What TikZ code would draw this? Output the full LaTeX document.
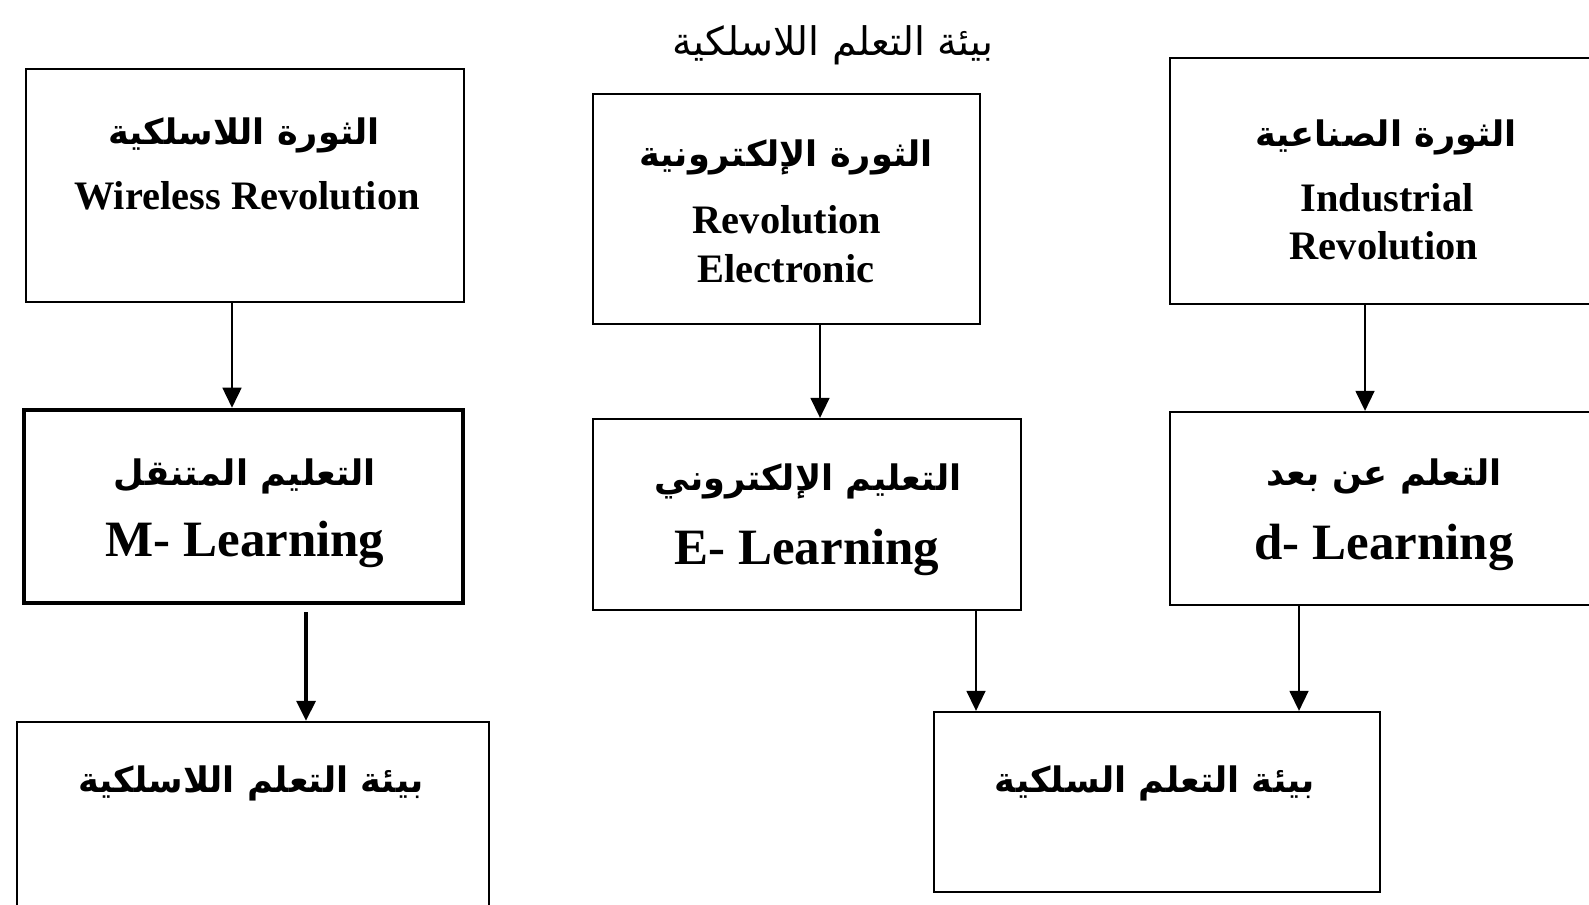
\documentclass[tikz,border=0pt]{standalone}
\usepackage{fontspec}
\setmainfont{Liberation Serif}
\newfontfamily\arabicfont[Script=Arabic]{DejaVu Sans}
\TeXXeTstate=1
\usetikzlibrary{arrows.meta}
\newcommand{\arabtxt}[1]{{\arabicfont\beginR #1\endR}}
\begin{document}
\begin{tikzpicture}
    \tikzset{box/.style={draw=black, line width=0.65pt, rectangle, inner sep=0pt},
        entop/.style={font=\bfseries\fontsize{11.5}{12}\selectfont, inner sep=0pt},
        enbig/.style={font=\bfseries\fontsize{14.5}{15}\selectfont, inner sep=0pt},
        artxt/.style={font=\bfseries\fontsize{10}{12}\selectfont, inner sep=0pt},
        flow/.style={-{Triangle[length=0.2cm, width=0.19cm]}, line width=0.45pt}}
    \clip (0,0) rectangle (15.89,-9.04);
    \fill[white] (0,0) rectangle (15.89,-9.04);
    %Titel oben
    \node[font=\fontsize{11.2}{12}\selectfont, inner sep=0pt] (title) at (8.33,-0.45) {\arabtxt{بيئة التعلم اللاسلكية}};

    %Revolutionen
    \node[box, minimum width=4.38cm, minimum height=2.33cm] (wrev) at (2.45,-1.855) {};
    \node[artxt] (wrevar) at (2.44,-1.35) {\arabtxt{الثورة اللاسلكية}};
    \node[entop] (wreven) at (2.47,-1.96) {Wireless Revolution};

    \node[box, minimum width=3.87cm, minimum height=2.30cm] (erev) at (7.865,-2.09) {};
    \node[artxt] (erevar) at (7.86,-1.57) {\arabtxt{الثورة الإلكترونية}};
    \node[entop] (ereven) at (7.87,-2.20) {Revolution};
    \node[entop] (ereven2) at (7.86,-2.69) {Electronic};

    \node[box, minimum width=4.30cm, minimum height=2.46cm] (irev) at (13.85,-1.81) {};
    \node[artxt] (irevar) at (13.86,-1.37) {\arabtxt{الثورة الصناعية}};
    \node[entop] (ireven) at (13.87,-1.98) {Industrial};
    \node[entop] (ireven2) at (13.84,-2.46) {Revolution};

    %Lernformen
    \node[box, line width=1.3pt, minimum width=4.39cm, minimum height=1.93cm] (mlearn) at (2.435,-5.065) {};
    \node[artxt] (mlearnar) at (2.45,-4.76) {\arabtxt{التعليم المتنقل}};
    \node[enbig] (mlearnen) at (2.45,-5.44) {M- Learning};

    \node[box, minimum width=4.28cm, minimum height=1.91cm] (elearn) at (8.07,-5.145) {};
    \node[artxt] (elearnar) at (8.08,-4.81) {\arabtxt{التعليم الإلكتروني}};
    \node[enbig] (elearnen) at (8.07,-5.52) {E- Learning};

    \node[box, minimum width=4.30cm, minimum height=1.93cm] (dlearn) at (13.85,-5.085) {};
    \node[artxt] (dlearnar) at (13.84,-4.76) {\arabtxt{التعلم عن بعد}};
    \node[enbig] (dlearnen) at (13.84,-5.47) {d- Learning};

    %Umgebungen
    \node[box, minimum width=4.72cm, minimum height=1.88cm] (wenv) at (2.53,-8.16) {};
    \node[artxt] (wenvar) at (2.51,-7.83) {\arabtxt{بيئة التعلم اللاسلكية}};

    \node[box, minimum width=4.46cm, minimum height=1.80cm] (cenv) at (11.57,-8.02) {};
    \node[artxt] (cenvar) at (11.55,-7.83) {\arabtxt{بيئة التعلم السلكية}};

    %Pfeile
    \draw[flow] (wrev.south -| 2.32,0) -- (mlearn.north -| 2.32,0);
    \draw[flow] (erev.south -| 8.20,0) -- (elearn.north -| 8.20,0);
    \draw[flow] (irev.south -| 13.65,0) -- (dlearn.north -| 13.65,0);
    \draw[flow, line width=0.9pt, shorten <=0.07cm] (mlearn.south -| 3.06,0) -- (wenv.north -| 3.06,0);
    \draw[flow] (elearn.south -| 9.76,0) -- (cenv.north -| 9.76,0);
    \draw[flow] (dlearn.south -| 12.99,0) -- (cenv.north -| 12.99,0);

\end{tikzpicture}
\end{document}
